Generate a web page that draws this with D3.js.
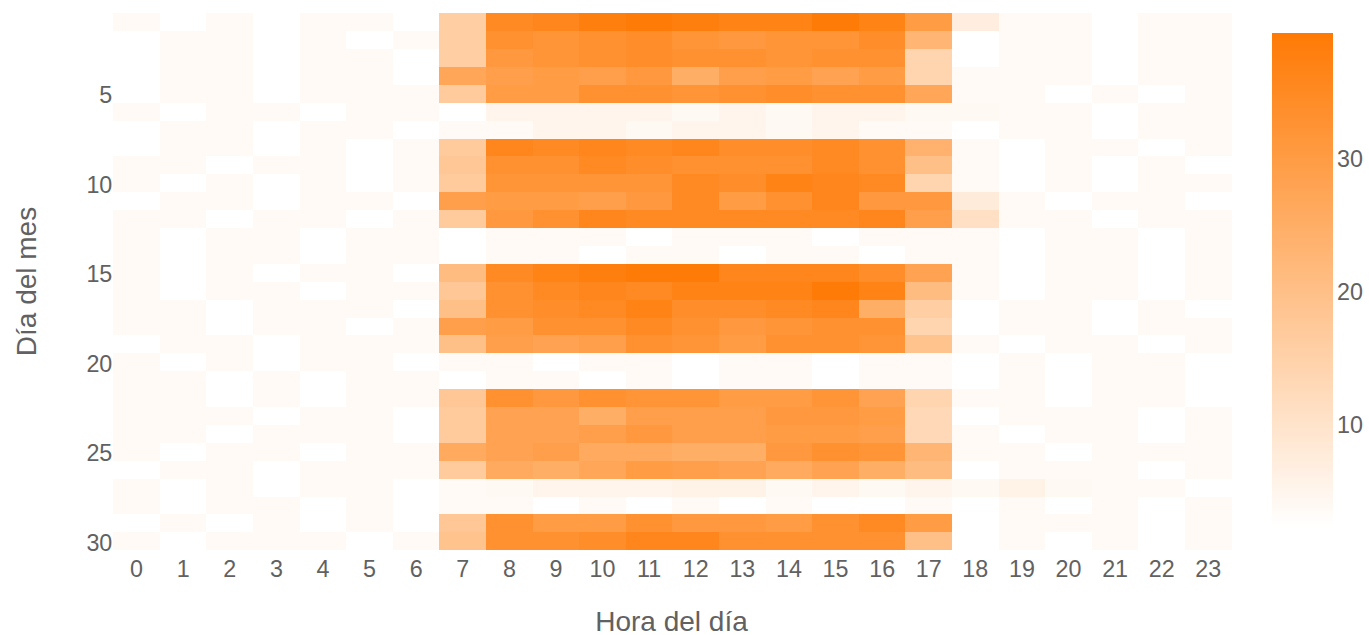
<!DOCTYPE html>
<html><head><meta charset="utf-8">
<script src="https://d3js.org/d3.v7.min.js"></script>
<style>html,body{margin:0;padding:0;background:#fff}svg{display:block}text{font-family:"Liberation Sans",Arial,sans-serif;fill:#616161}</style>
</head><body><div id="chart"></div>
<script>
const hours=[0,1,2,3,4,5,6,7,8,9,10,11,12,13,14,15,16,17,18,19,20,21,22,23];
const days=d3.range(1,31);
const dayTicks=[5,10,15,20,25,30];
const barTicks=[10,20,30];
const xTitle="Hora del día", yTitle="Día del mes";
const valueRange=[2.3,39.4];
const counts=[
[3.7,2.3,3.7,2.3,3.7,3.7,2.3,16,35,36,38,39,38,37,37,39,37,30,7,3.7,3.7,2.3,3.7,3.7],
[2.3,3.7,3.7,2.3,3.7,2.3,3.7,16,33,32,33,34,32,31,32,32,34,23,2.3,3.7,3.7,2.3,3.7,3.7],
[2.3,3.7,3.7,2.3,3.7,3.7,2.3,16,31,32,33,34,33,33,32,33,33,14,2.3,3.7,3.7,2.3,3.7,3.7],
[2.3,3.7,3.7,2.3,3.7,3.7,2.3,27,29,30,29,31,25,29,30,28,30,14,3.7,3.7,3.7,2.3,3.7,3.7],
[2.3,3.7,3.7,2.3,3.7,3.7,3.7,17,30,30,33,33,32,33,34,33,33,27,3.7,3.7,2.3,3.7,2.3,3.7],
[3.7,2.3,3.7,3.7,2.3,3.7,3.7,2.3,5,5,5,5,4,5,4,5,5,4,4,3.7,3.7,2.3,3.7,3.7],
[2.3,3.7,3.7,2.3,3.7,3.7,2.3,3.7,3.7,5,5,4,5,5,4,5,3.7,3.7,2.3,3.7,3.7,2.3,3.7,3.7],
[2.3,3.7,3.7,2.3,3.7,2.3,3.7,17,36,35,36,35,36,34,34,35,33,24,3.7,2.3,3.7,3.7,2.3,3.7],
[3.7,3.7,2.3,3.7,3.7,2.3,3.7,18,33,33,35,34,33,33,33,35,33,20,3.7,2.3,3.7,2.3,3.7,2.3],
[3.7,2.3,3.7,2.3,3.7,2.3,3.7,17,32,32,32,32,35,34,37,36,35,14,3.7,2.3,3.7,2.3,3.7,3.7],
[2.3,3.7,3.7,2.3,3.7,3.7,2.3,29,30,30,29,31,35,30,33,36,31,31,8,3.7,2.3,3.7,3.7,2.3],
[3.7,3.7,2.3,3.7,3.7,2.3,3.7,17,31,33,36,35,35,35,35,35,36,29,11,3.7,3.7,2.3,3.7,3.7],
[3.7,2.3,3.7,3.7,2.3,3.7,3.7,2.3,3.7,3.7,3.7,2.3,3.7,3.7,3.7,2.3,3.7,3.7,3.7,2.3,3.7,3.7,2.3,3.7],
[3.7,2.3,3.7,3.7,2.3,3.7,3.7,2.3,3.7,3.7,2.3,3.7,3.7,2.3,3.7,3.7,2.3,3.7,3.7,2.3,3.7,3.7,2.3,3.7],
[3.7,2.3,3.7,2.3,3.7,3.7,2.3,21,35,37,38,39,39,36,36,36,34,28,3.7,2.3,3.7,3.7,2.3,3.7],
[3.7,2.3,3.7,3.7,2.3,3.7,3.7,18,33,35,36,35,37,37,37,39,37,21,3.7,2.3,3.7,3.7,2.3,3.7],
[3.7,3.7,2.3,3.7,3.7,3.7,2.3,20,33,34,35,37,34,34,35,36,25,16,2.3,3.7,3.7,2.3,3.7,2.3],
[3.7,3.7,2.3,3.7,3.7,2.3,3.7,29,30,33,33,35,33,31,32,33,33,14,2.3,3.7,3.7,2.3,3.7,3.7],
[2.3,3.7,3.7,2.3,3.7,3.7,3.7,20,29,28,29,33,32,30,33,33,32,19,3.7,2.3,3.7,3.7,2.3,3.7],
[3.7,2.3,3.7,2.3,3.7,3.7,2.3,3.7,3.7,2.3,3.7,3.7,2.3,3.7,3.7,2.3,3.7,3.7,2.3,3.7,2.3,3.7,3.7,2.3],
[3.7,3.7,2.3,3.7,2.3,3.7,3.7,2.3,3.7,3.7,2.3,3.7,2.3,3.7,3.7,2.3,3.7,3.7,2.3,3.7,2.3,3.7,3.7,2.3],
[3.7,3.7,2.3,3.7,2.3,3.7,3.7,18,33,31,33,32,32,30,30,32,28,14,3.7,3.7,2.3,3.7,3.7,2.3],
[3.7,3.7,3.7,2.3,3.7,3.7,2.3,17,28,28,25,29,29,29,31,31,30,13,2.3,3.7,3.7,3.7,2.3,3.7],
[3.7,3.7,2.3,3.7,3.7,3.7,2.3,17,28,28,29,31,29,29,30,30,29,13,3.7,2.3,3.7,3.7,2.3,3.7],
[3.7,2.3,3.7,3.7,2.3,3.7,3.7,26,28,29,26,26,25,25,31,33,32,23,3.7,3.7,2.3,3.7,3.7,3.7],
[2.3,3.7,3.7,2.3,3.7,3.7,3.7,17,26,25,27,30,29,28,26,28,25,21,2.3,3.7,3.7,3.7,2.3,3.7],
[3.7,2.3,3.7,2.3,3.7,3.7,2.3,3.7,4,5,5,5,6,6,4,5,4,5,4,6,4,3.7,3.7,2.3],
[3.7,2.3,3.7,3.7,2.3,3.7,2.3,3.7,3.7,2.3,3.7,2.3,3.7,2.3,3.7,2.3,2.3,3.7,2.3,3.7,2.3,3.7,2.3,3.7],
[2.3,3.7,2.3,3.7,2.3,3.7,2.3,18,33,30,30,33,31,31,30,33,35,30,2.3,3.7,3.7,3.7,2.3,3.7],
[3.7,2.3,3.7,3.7,3.7,2.3,3.7,19,33,33,34,36,36,33,33,33,33,20,2.3,3.7,2.3,3.7,2.3,3.7]
];
const W=1369,H=635,L=113.3,R=1231.6,T=13.3,B=550.2,fs=23.3,tfs=28;
const svg=d3.select("#chart").append("svg").attr("width",W).attr("height",H);
const x=d3.scaleBand().domain(hours).range([L,R]);
const y=d3.scaleBand().domain(days).range([T,B]);
const color=d3.scaleLinear().domain(valueRange).range(["#ffffff","#ff7a05"]).clamp(true);
const cells=counts.flatMap((row,i)=>row.map((v,j)=>({day:days[i],hour:hours[j],v})));
svg.append("g").attr("shape-rendering","crispEdges").selectAll("rect").data(cells).join("rect")
 .attr("x",d=>x(d.hour)).attr("y",d=>y(d.day))
 .attr("width",x.bandwidth()).attr("height",y.bandwidth())
 .attr("fill",d=>color(d.v));
const xAxis=d3.axisBottom(x).tickSize(0).tickPadding(0);
const gx=svg.append("g").attr("transform",`translate(0,${B+10})`).call(xAxis);
gx.select(".domain").remove();
gx.selectAll("text").attr("font-size",fs).attr("dy","0.71em");
const yAxis=d3.axisLeft(y).tickValues(dayTicks).tickSize(0).tickPadding(1);
const gy=svg.append("g").attr("transform",`translate(${L},0)`).call(yAxis);
gy.select(".domain").remove();
gy.selectAll("text").attr("font-size",fs).attr("dy","0.40em");
svg.append("text").attr("x",671.5).attr("y",630.5).attr("text-anchor","middle").attr("font-size",tfs).text(xTitle);
svg.append("text").attr("transform","translate(36,281.5) rotate(-90)").attr("text-anchor","middle").attr("font-size",tfs).text(yTitle);
const cbY=d3.scaleLinear().domain(valueRange).range([527,33]);
const bands=d3.range(valueRange[0],valueRange[1],0.25);
svg.append("g").attr("shape-rendering","crispEdges").selectAll("rect").data(bands).join("rect")
 .attr("x",1272).attr("width",61)
 .attr("y",d=>cbY(Math.min(d+0.25,valueRange[1])))
 .attr("height",d=>cbY(d)-cbY(Math.min(d+0.25,valueRange[1]))+.5)
 .attr("fill",d=>color(d+0.125));
const gc=svg.append("g").attr("transform","translate(1333,0)").call(d3.axisRight(cbY).tickValues(barTicks).tickSize(0).tickPadding(4));
gc.select(".domain").remove();
gc.selectAll("text").attr("font-size",fs).attr("dy","0.36em");
</script></body></html>
